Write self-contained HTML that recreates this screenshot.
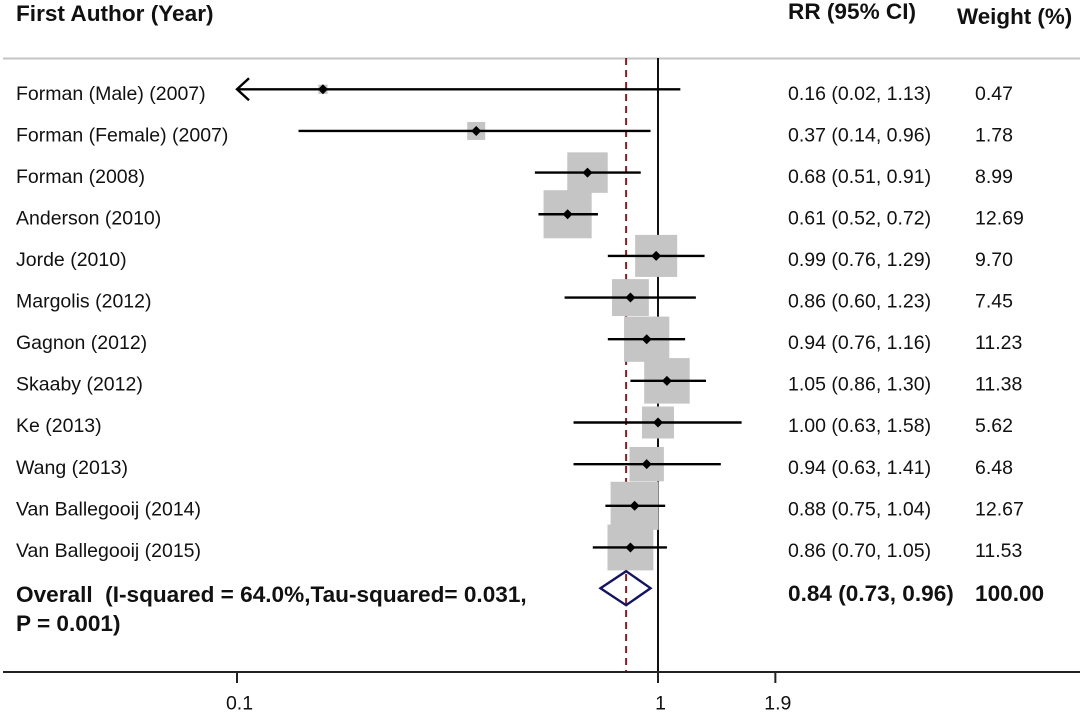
<!DOCTYPE html>
<html lang="en">
<head>
<meta charset="utf-8">
<title>Forest plot</title>
<style>
html,body{margin:0;padding:0;background:#fff;width:1084px;height:712px;overflow:hidden}
svg{display:block}
text{font-family:"Liberation Sans",Arial,sans-serif;fill:#111}
</style>
</head>
<body>
<svg id="chart" xmlns="http://www.w3.org/2000/svg" width="1084" height="712" viewBox="0 0 1084 712">
  <text x="16" y="21" font-size="22.6" font-weight="700">First Author (Year)</text>
  <text x="788" y="19" font-size="22.6" font-weight="700">RR (95% CI)</text>
  <text x="957" y="24" font-size="22.4" font-weight="700">Weight (%)</text>
  <line x1="3" x2="1080" y1="58.5" y2="58.5" stroke="#c4c4c4" stroke-width="2"/>
  <g id="refs"></g>
  <g id="boxes"></g>
  <g id="cis"></g>
  <g id="labels"></g>
  <g id="overall"></g>
  <g id="axis"></g>
</svg>
<script>
const studies = ["Forman (Male) (2007)","Forman (Female) (2007)","Forman (2008)","Anderson (2010)","Jorde (2010)","Margolis (2012)","Gagnon (2012)","Skaaby (2012)","Ke (2013)","Wang (2013)","Van Ballegooij (2014)","Van Ballegooij (2015)"];
const rr = [0.16,0.37,0.68,0.61,0.99,0.86,0.94,1.05,1.00,0.94,0.88,0.86];
const ciLow = [0.02,0.14,0.51,0.52,0.76,0.60,0.76,0.86,0.63,0.63,0.75,0.70];
const ciHigh = [1.13,0.96,0.91,0.72,1.29,1.23,1.16,1.30,1.58,1.41,1.04,1.05];
const weights = [0.47,1.78,8.99,12.69,9.70,7.45,11.23,11.38,5.62,6.48,12.67,11.53];
const overallRR = [0.84];
const overallLow = [0.73];
const overallHigh = [0.96];
const overallWeight = ["100.00"];
const axisTicks = [0.1,1,1.9];

const NS = "http://www.w3.org/2000/svg";
const axisMin = 0.1;
function xScale(v){ return 658 + 421 * Math.log10(v); }
function rowY(i){ return 89.3 + 41.65 * i; }
function textY(i){ return 99.8 + 41.55 * i; }
function boxSize(w){ return 13.5 * Math.sqrt(w); }
function make(parent, tag, attrs, text){
  const el = document.createElementNS(NS, tag);
  for (const k in attrs) el.setAttribute(k, attrs[k]);
  if (text !== undefined) el.textContent = text;
  parent.appendChild(el);
  return el;
}
const refs = document.getElementById("refs");
const boxes = document.getElementById("boxes");
const cis = document.getElementById("cis");
const labels = document.getElementById("labels");
const overall = document.getElementById("overall");
const axis = document.getElementById("axis");

const nullLine = make(refs, "line", {x1:xScale(1),x2:xScale(1),y1:58,y2:683,stroke:"#111","stroke-width":2});


const pooledLine = make(refs, "line", {x1:xScale(overallRR[0]),x2:xScale(overallRR[0]),y1:58,y2:672,stroke:"#8b1a22","stroke-width":2,"stroke-dasharray":"7 5"});



studies.forEach(function(name, i){
  const y = rowY(i), cx = xScale(rr[i]), s = boxSize(weights[i]), ty = textY(i);
  const box = make(boxes, "rect", {x:cx-s/2,y:y-s/2,width:s,height:s,fill:"#c5c5c5"});
  
  

  const clipped = ciLow[i] < axisMin;
  const x1 = xScale(Math.max(ciLow[i], axisMin)), x2 = xScale(ciHigh[i]);
  const ci = make(cis, "line", {x1:x1,x2:x2,y1:y,y2:y,stroke:"#000","stroke-width":2.4});
  
  
  if (clipped) {
    const arrow = make(cis, "polyline", {points:(x1+12)+","+(y-11)+" "+x1+","+y+" "+(x1+12)+","+(y+11),fill:"none",stroke:"#000","stroke-width":2.4});
    
    
  }
  const d = 5;
  const point = make(cis, "polygon", {points:(cx-d)+","+y+" "+cx+","+(y-d)+" "+(cx+d)+","+y+" "+cx+","+(y+d),fill:"#000"});
  
  

  const nameText = make(labels, "text", {x:16,y:ty,"font-size":19.5}, name);
  
  
  const rrText = make(labels, "text", {x:788,y:ty,"font-size":19.5}, rr[i].toFixed(2)+" ("+ciLow[i].toFixed(2)+", "+ciHigh[i].toFixed(2)+")");
  
  
  const wText = make(labels, "text", {x:975,y:ty,"font-size":19.5}, weights[i].toFixed(2));
  
  
});

const oy = 588.2;
const dia = make(overall, "polygon", {points:xScale(overallLow[0])+","+oy+" "+xScale(overallRR[0])+","+(oy-17)+" "+xScale(overallHigh[0])+","+oy+" "+xScale(overallRR[0])+","+(oy+17),fill:"none",stroke:"#14145f","stroke-width":2.4});


const o1 = make(overall, "text", {x:16,y:602,"font-size":22.6,"font-weight":700}, "Overall\u00a0 (I-squared = 64.0%,Tau-squared= 0.031,");


const o2 = make(overall, "text", {x:16,y:631,"font-size":22.6,"font-weight":700}, "P = 0.001)");


const o3 = make(overall, "text", {x:788,y:601,"font-size":22.6,"font-weight":700}, overallRR[0].toFixed(2)+" ("+overallLow[0].toFixed(2)+", "+overallHigh[0].toFixed(2)+")");


const o4 = make(overall, "text", {x:975,y:601,"font-size":22.6,"font-weight":700}, overallWeight[0]);



const axisLine = make(axis, "line", {x1:3,x2:1080,y1:672,y2:672,stroke:"#222","stroke-width":2});


axisTicks.forEach(function(t){
  const x = xScale(t);
  const tick = make(axis, "line", {x1:x,x2:x,y1:672,y2:683,stroke:"#222","stroke-width":2});
  
  
  const lab = make(axis, "text", {x:x+2.5,y:709.5,"font-size":19.5,"text-anchor":"middle"}, String(t));
  
  
});
</script>
</body>
</html>
